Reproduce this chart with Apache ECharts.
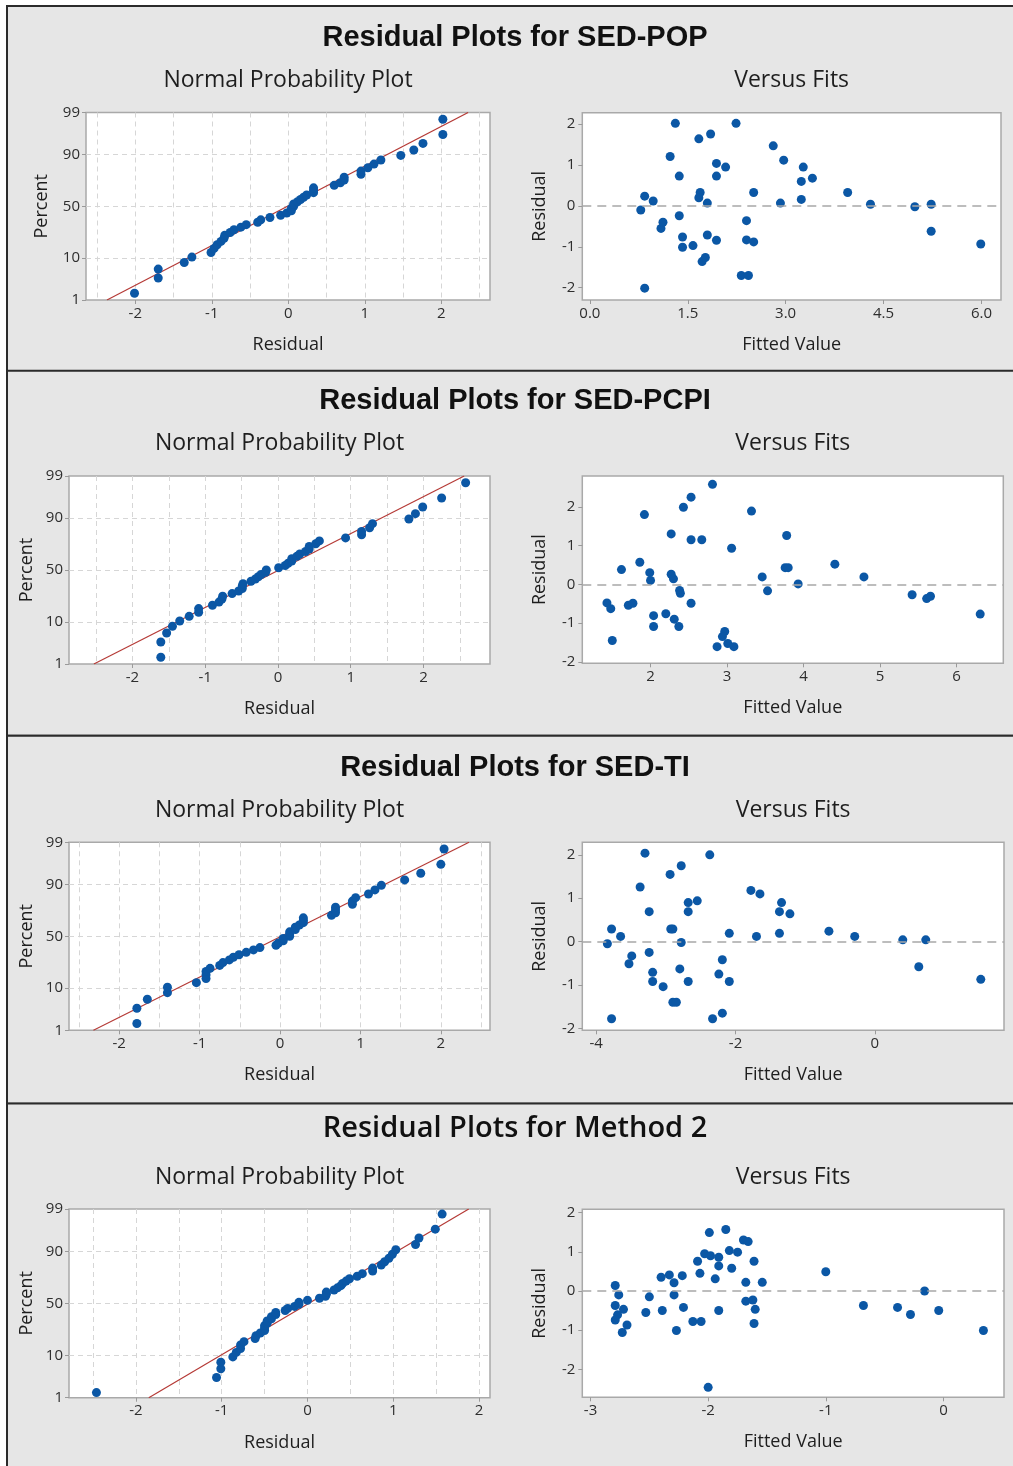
<!DOCTYPE html>
<html>
<head>
<meta charset="utf-8">
<script src="https://cdn.jsdelivr.net/npm/echarts@6/dist/echarts.min.js"></script>
<style>
  html, body { margin: 0; padding: 0; background: #fff; }
  #chart { width: 1013px; height: 1466px; }
</style>
</head>
<body>
<div id="chart"></div>
<script>
// ---- data (fitted value, residual) ----
const popFits = [0.78, 0.84, 0.97, 0.84, 1.09, 1.12, 1.23, 1.31, 1.37, 1.37, 1.42, 1.42, 1.58, 1.67, 1.85, 1.69, 1.67, 1.80, 1.80, 1.72, 1.77, 1.94, 2.08, 1.94, 1.94, 2.24, 2.40, 2.40, 2.51, 2.51, 2.32, 2.43, 2.81, 2.97, 2.92, 3.27, 3.24, 3.41, 3.24, 3.95, 4.30, 4.98, 5.23, 5.23, 5.99];
const popResid = [-0.10, 0.24, 0.12, -2.01, -0.55, -0.40, 1.21, 2.02, 0.73, -0.24, -0.76, -1.01, -0.97, 1.64, 1.76, 0.33, 0.20, 0.07, -0.71, -1.36, -1.26, 1.04, 0.95, 0.73, -0.84, 2.02, -0.36, -0.83, -0.88, 0.33, -1.70, -1.70, 1.47, 1.12, 0.07, 0.95, 0.60, 0.68, 0.16, 0.33, 0.04, -0.02, 0.04, -0.62, -0.93];

const pcpiFits = [1.43, 1.48, 1.50, 1.62, 1.71, 1.77, 1.86, 1.92, 1.99, 2.00, 2.04, 2.04, 2.20, 2.27, 2.27, 2.30, 2.31, 2.37, 2.38, 2.39, 2.43, 2.53, 2.53, 2.67, 2.53, 2.81, 3.06, 2.97, 2.94, 2.87, 3.01, 3.09, 3.32, 3.46, 3.53, 3.78, 3.76, 3.80, 3.93, 4.41, 4.79, 5.42, 5.61, 5.66, 6.31];
const pcpiResid = [-0.48, -0.63, -1.45, 0.38, -0.54, -0.49, 0.57, 1.80, 0.30, 0.10, -0.81, -1.09, -0.76, 1.30, 0.26, 0.14, -0.90, -1.09, -0.16, -0.23, 1.99, 2.25, 1.15, 1.15, -0.49, 2.58, 0.93, -1.22, -1.35, -1.61, -1.53, -1.61, 1.89, 0.19, -0.17, 1.26, 0.43, 0.43, 0.01, 0.52, 0.19, -0.27, -0.37, -0.31, -0.77];

const tiFits = [-3.84, -3.78, -3.65, -3.78, -3.53, -3.49, -3.37, -3.30, -3.24, -3.24, -3.19, -3.19, -3.04, -2.94, -2.78, -2.93, -2.90, -2.78, -2.80, -2.90, -2.85, -2.68, -2.55, -2.68, -2.68, -2.37, -2.19, -2.24, -2.09, -2.09, -2.33, -2.19, -1.78, -1.65, -1.70, -1.34, -1.37, -1.22, -1.37, -0.66, -0.29, 0.40, 0.73, 0.63, 1.52];
const tiResid = [-0.05, 0.29, 0.12, -1.78, -0.51, -0.33, 1.26, 2.04, 0.69, -0.25, -0.71, -0.92, -1.04, 1.55, 1.75, 0.29, 0.29, -0.02, -0.63, -1.40, -1.40, 0.90, 0.94, 0.69, -0.92, 2.00, -0.42, -0.75, -0.92, 0.19, -1.78, -1.65, 1.18, 1.10, 0.12, 0.90, 0.69, 0.64, 0.19, 0.24, 0.12, 0.04, 0.04, -0.58, -0.87];

const m2Fits = [-2.79, -2.76, -2.79, -2.72, -2.77, -2.79, -2.69, -2.73, -2.50, -2.53, -2.40, -2.33, -2.29, -2.29, -2.22, -2.39, -2.21, -2.27, -2.13, -2.06, -2.09, -2.07, -2.03, -1.98, -1.99, -1.94, -1.91, -1.91, -1.91, -2.00, -1.85, -1.82, -1.75, -1.80, -1.70, -1.66, -1.61, -1.68, -1.68, -1.62, -1.60, -1.61, -1.54, -1.00, -0.68, -0.39, -0.28, -0.16, -0.04, 0.34];
const m2Resid = [0.14, -0.10, -0.37, -0.47, -0.61, -0.74, -0.87, -1.06, -0.15, -0.55, 0.35, 0.41, 0.21, -0.10, 0.39, -0.50, -0.42, -1.01, -0.78, -0.78, 0.76, 0.45, 0.95, 0.90, 1.49, 0.31, 0.86, 0.64, -0.50, -2.46, 1.57, 1.03, 0.99, 0.58, 1.30, 1.26, 0.76, 0.22, -0.26, -0.23, -0.47, -0.83, 0.22, 0.49, -0.37, -0.42, -0.60, 0.00, -0.50, -1.01];

// residual where the fitted normal line crosses 1% and 99%
const popLine = [-2.37, 2.35];
const pcpiLine = [-2.53, 2.56];
const tiLine = [-2.32, 2.35];
const m2Line = [-1.85, 1.88];

// tick labels
const pctTicks = [1, 10, 50, 90, 99];
const pctGrid = [10, 50, 90];
const npResidTicks = [-2, -1, 0, 1, 2];
const npHalfGrid = [-2.5, -2, -1.5, -1, -0.5, 0, 0.5, 1, 1.5, 2, 2.5];
const vfResidTicks = [-2, -1, 0, 1, 2];
const popFitTicks = [0, 1.5, 3, 4.5, 6];
const pcpiFitTicks = [2, 3, 4, 5, 6];
const tiFitTicks = [-4, -2, 0];
const m2FitTicks = [-3, -2, -1, 0];

// inverse standard normal cdf (Acklam) for the probability axis
function probit(p) {
  const a = [-39.69683028665376, 220.9460984245205, -275.9285104469687, 138.3577518672690, -30.66479806614716, 2.506628277459239];
  const b = [-54.47609879822406, 161.5858368580409, -155.6989798598866, 66.80131188771972, -13.28068155288572];
  const c = [-0.007784894002430293, -0.3223964580411365, -2.400758277161838, -2.549732539343734, 4.374664141464968, 2.938163982698783];
  const d = [0.007784695709041462, 0.3224671290700398, 2.445134137142996, 3.754408661907416];
  const lo = 0.02425;
  if (p < lo) {
    const q = Math.sqrt(-2 * Math.log(p));
    return (((((c[0] * q + c[1]) * q + c[2]) * q + c[3]) * q + c[4]) * q + c[5]) / ((((d[0] * q + d[1]) * q + d[2]) * q + d[3]) * q + 1);
  }
  if (p > 1 - lo) {
    const q = Math.sqrt(-2 * Math.log(1 - p));
    return -(((((c[0] * q + c[1]) * q + c[2]) * q + c[3]) * q + c[4]) * q + c[5]) / ((((d[0] * q + d[1]) * q + d[2]) * q + d[3]) * q + 1);
  }
  const q = p - 0.5, r = q * q;
  return (((((a[0] * r + a[1]) * r + a[2]) * r + a[3]) * r + a[4]) * r + a[5]) * q / (((((b[0] * r + b[1]) * r + b[2]) * r + b[3]) * r + b[4]) * r + 1);
}

// normal scores the way Minitab plots them (median ranks)
function normalPoints(resid) {
  const s = resid.slice().sort((x, y) => x - y);
  const n = s.length;
  return s.map((r, i) => [r, probit((i + 1 - 0.3) / (n + 0.4))]);
}

const Z_LO = probit(0.01);
const Z_HI = probit(0.99);
const zTicks = pctTicks.map((p) => probit(p / 100));
const zGrid = pctGrid.map((p) => probit(p / 100));

const FONT = "'Open Sans', 'Noto Sans', sans-serif";
const TITLE_FONT = "'Liberation Sans', Arial, sans-serif";
const BLUE = "#0b57a5";
const RED = "#b53a36";
const TXT = "#1e1e1e";

const panels = [
  {
    title: "Residual Plots for SED-POP", titleFamily: TITLE_FONT, titleWeight: "bold", titleSize: 29,
    top: 6, height: 365, titleY: 38, subY: 80,
    fits: popFits, resid: popResid, line: popLine,
    np: { left: 86, top: 112.5, width: 404, height: 187.5 }, npX: [-2.644, 2.636], percentGap: 35,
    vf: { left: 582.3, top: 112.7, width: 418.7, height: 187.3 }, vfX: [-0.116, 6.30], vfY: [-2.30, 2.28],
    fitTicks: popFitTicks, fitDec: 1,
  },
  {
    title: "Residual Plots for SED-PCPI", titleFamily: TITLE_FONT, titleWeight: "bold", titleSize: 29,
    top: 370.7, height: 365, titleY: 401, subY: 443,
    fits: pcpiFits, resid: pcpiResid, line: pcpiLine,
    np: { left: 69, top: 476, width: 421, height: 188 }, npX: [-2.872, 2.915], percentGap: 33,
    vf: { left: 582.3, top: 476, width: 421, height: 187.3 }, vfX: [1.108, 6.612], vfY: [-2.04, 2.796],
    fitTicks: pcpiFitTicks, fitDec: 0,
  },
  {
    title: "Residual Plots for SED-TI", titleFamily: TITLE_FONT, titleWeight: "bold", titleSize: 29,
    top: 735.7, height: 368, titleY: 768, subY: 810,
    fits: tiFits, resid: tiResid, line: tiLine,
    np: { left: 69, top: 842.3, width: 421, height: 188 }, npX: [-2.624, 2.611], percentGap: 33,
    vf: { left: 582.3, top: 842.3, width: 421.7, height: 188 }, vfX: [-4.2, 1.853], vfY: [-2.046, 2.29],
    fitTicks: tiFitTicks, fitDec: 0,
  },
  {
    title: "Residual Plots for Method 2", titleFamily: FONT, titleWeight: 600, titleSize: 29,
    top: 1103.5, height: 380, titleY: 1129, subY: 1177,
    fits: m2Fits, resid: m2Resid, line: m2Line,
    np: { left: 69, top: 1209, width: 421, height: 188.7 }, npX: [-2.78, 2.128], percentGap: 33,
    vf: { left: 582.3, top: 1209.3, width: 421.7, height: 188 }, vfX: [-3.07, 0.515], vfY: [-2.715, 2.085],
    fitTicks: m2FitTicks, fitDec: 0,
  },
];

const tickLabel = { fontFamily: FONT, fontSize: 15, color: "#2e2e2e" };
const nameStyle = { fontFamily: FONT, fontSize: 18, color: TXT };
const tickStyle = { show: true, length: 4, inside: false, lineStyle: { color: "#9a9a9a", width: 1 } };
const dashGrid = { show: true, lineStyle: { color: "#d6d6d6", width: 1, type: [5, 4] } };
const noLine = { show: false, onZero: false };

const grids = [];
const xAxes = [];
const yAxes = [];
const series = [];
const graphics = [];

panels.forEach((p) => {
  graphics.push({
    type: "rect", z: -10, silent: true,
    shape: { x: 7, y: p.top, width: 1012, height: p.height },
    style: { fill: "#e6e6e6", stroke: "#2b2b2b", lineWidth: 2 },
  });
  graphics.push({
    type: "text", x: 515, y: p.titleY, silent: true,
    style: { text: p.title, fontFamily: p.titleFamily, fontWeight: p.titleWeight, fontSize: p.titleSize, fill: "#111", align: "center", verticalAlign: "middle" },
  });
  graphics.push({
    type: "text", x: p.np.left + p.np.width / 2, y: p.subY, silent: true,
    style: { text: "Normal Probability Plot", fontFamily: FONT, fontSize: 23, fill: TXT, align: "center", verticalAlign: "middle" },
  });
  graphics.push({
    type: "text", x: p.vf.left + p.vf.width / 2, y: p.subY, silent: true,
    style: { text: "Versus Fits", fontFamily: FONT, fontSize: 23, fill: TXT, align: "center", verticalAlign: "middle" },
  });

  const gBase = { show: true, backgroundColor: "#fff", borderColor: "#a9a9a9", borderWidth: 1.5, containLabel: false, outerBoundsMode: "none" };

  // normal probability plot
  const gNp = grids.length;
  grids.push(Object.assign({}, gBase, p.np));
  const xNp = xAxes.length;
  xAxes.push({
    type: "value", gridIndex: gNp, min: p.npX[0], max: p.npX[1],
    axisLine: noLine,
    axisTick: Object.assign({ customValues: npResidTicks }, tickStyle),
    axisLabel: Object.assign({ customValues: npResidTicks, margin: 6 }, tickLabel),
    splitLine: { show: false },
    name: "Residual", nameLocation: "middle", nameGap: 36, nameTextStyle: nameStyle,
  });
  xAxes.push({
    type: "value", gridIndex: gNp, position: "top", min: p.npX[0], max: p.npX[1],
    axisLine: noLine, axisTick: { show: false, customValues: npHalfGrid },
    axisLabel: { show: false }, splitLine: dashGrid,
  });
  const yNp = yAxes.length;
  yAxes.push({
    type: "value", gridIndex: gNp, min: Z_LO, max: Z_HI,
    axisLine: noLine,
    axisTick: Object.assign({ customValues: zTicks }, tickStyle),
    axisLabel: Object.assign({
      customValues: zTicks, margin: 6,
      formatter: (v) => {
        const i = zTicks.findIndex((z) => Math.abs(z - v) < 1e-6);
        return i >= 0 ? String(pctTicks[i]) : "";
      },
    }, tickLabel),
    splitLine: { show: false },
    name: "Percent", nameLocation: "middle", nameGap: p.percentGap, nameTextStyle: nameStyle,
  });
  yAxes.push({
    type: "value", gridIndex: gNp, position: "right", min: Z_LO, max: Z_HI,
    axisLine: noLine, axisTick: { show: false, customValues: zGrid },
    axisLabel: { show: false }, splitLine: dashGrid,
  });
  series.push({
    type: "line", xAxisIndex: xNp, yAxisIndex: yNp, z: 2,
    data: [[p.line[0], Z_LO], [p.line[1], Z_HI]],
    symbol: "none", silent: true, clip: true,
    lineStyle: { color: RED, width: 1.2 },
  });
  series.push({
    type: "scatter", xAxisIndex: xNp, yAxisIndex: yNp, z: 3,
    data: normalPoints(p.resid),
    symbol: "circle", symbolSize: 9,
    itemStyle: { color: BLUE, opacity: 1 },
  });

  // versus fits
  const gVf = grids.length;
  grids.push(Object.assign({}, gBase, p.vf));
  const xVf = xAxes.length;
  xAxes.push({
    type: "value", gridIndex: gVf, min: p.vfX[0], max: p.vfX[1],
    axisLine: noLine,
    axisTick: Object.assign({ customValues: p.fitTicks }, tickStyle),
    axisLabel: Object.assign({ customValues: p.fitTicks, margin: 6, formatter: (v) => v.toFixed(p.fitDec) }, tickLabel),
    splitLine: { show: false },
    name: "Fitted Value", nameLocation: "middle", nameGap: 36, nameTextStyle: nameStyle,
  });
  const yVf = yAxes.length;
  yAxes.push({
    type: "value", gridIndex: gVf, min: p.vfY[0], max: p.vfY[1],
    axisLine: noLine,
    axisTick: Object.assign({ customValues: vfResidTicks }, tickStyle),
    axisLabel: Object.assign({ customValues: vfResidTicks, margin: 7 }, tickLabel),
    splitLine: { show: false },
    name: "Residual", nameLocation: "middle", nameGap: 33, nameTextStyle: nameStyle,
  });
  series.push({
    type: "scatter", xAxisIndex: xVf, yAxisIndex: yVf, z: 3,
    data: p.fits.map((f, i) => [f, p.resid[i]]),
    symbol: "circle", symbolSize: 9,
    itemStyle: { color: BLUE, opacity: 1 },
    markLine: {
      silent: true, symbol: "none", animation: false,
      label: { show: false },
      lineStyle: { color: "#a8a8a8", width: 1.6, type: [9, 6] },
      data: [{ yAxis: 0 }],
    },
  });
});

const chart = echarts.init(document.getElementById("chart"), null, { renderer: "canvas" });
chart.setOption({
  animation: false,
  backgroundColor: "#fff",
  graphic: { elements: graphics },
  grid: grids,
  xAxis: xAxes,
  yAxis: yAxes,
  series: series,
});
window.addEventListener("resize", () => chart.resize());
</script>
</body>
</html>
